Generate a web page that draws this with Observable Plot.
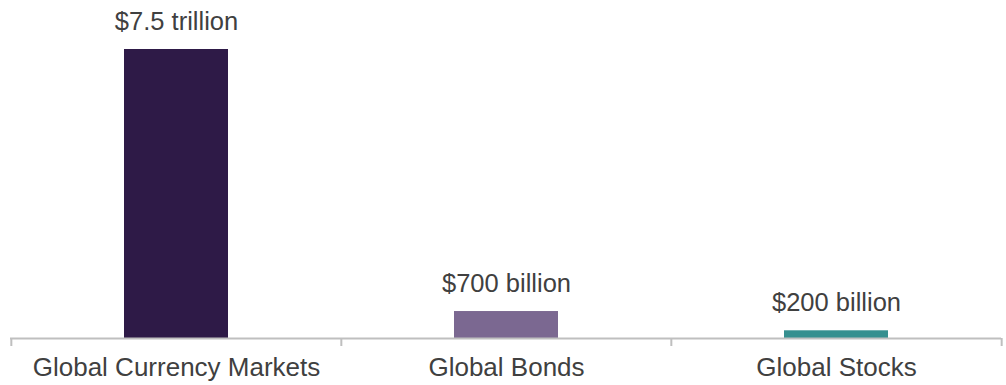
<!DOCTYPE html>
<html>
<head>
<meta charset="utf-8">
<script src="https://cdn.jsdelivr.net/npm/d3@7"></script>
<script src="https://cdn.jsdelivr.net/npm/@observablehq/plot@0.6"></script>
<style>
  html, body { margin: 0; padding: 0; background: #fff; }
</style>
</head>
<body>
<div id="chart"></div>
<script>
const categories = ["Global Currency Markets", "Global Bonds", "Global Stocks"];
const values = [7.5, 0.7, 0.2]; // trillions of dollars
const valueLabels = ["$7.5 trillion", "$700 billion", "$200 billion"];
const colors = ["#2e1a47", "#7b6891", "#358f8f"];

const data = categories.map((c, i) => ({category: c, value: values[i], label: valueLabels[i]}));
const lastCategory = [categories[categories.length - 1]];

const W = 1006, H = 385;
const mL = 10, mR = 5;
const step = (W - mL - mR) / categories.length;

const chart = Plot.plot({
  width: W,
  height: H,
  marginLeft: mL,
  marginRight: mR,
  marginTop: 49,
  marginBottom: 47,
  style: {fontFamily: "'Liberation Sans', Arial, sans-serif", fontSize: "26px", color: "#404040", background: "#fff"},
  x: {domain: categories, paddingInner: 0.685, paddingOuter: 0.3425, tickSize: 0, tickPadding: 19, label: null},
  y: {domain: [0, 7.5], axis: null},
  color: {domain: categories, range: colors},
  marks: [
    Plot.barY(data, {x: "category", y: "value", fill: "category"}),
    Plot.ruleY([0], {stroke: "#bfbfbf", strokeWidth: 2}),
    Plot.ruleX(categories, {x: d => d, y1: 0, y2: 0, dx: -step / 2, insetBottom: -8, stroke: "#bfbfbf", strokeWidth: 2}),
    Plot.ruleX(lastCategory, {x: d => d, y1: 0, y2: 0, dx: step / 2, insetBottom: -8, stroke: "#bfbfbf", strokeWidth: 2}),
    Plot.text(data, {x: "category", y: "value", text: "label", dy: -28, fontSize: 25.5, fill: "#404040"})
  ]
});
document.getElementById("chart").appendChild(chart);
</script>
</body>
</html>
